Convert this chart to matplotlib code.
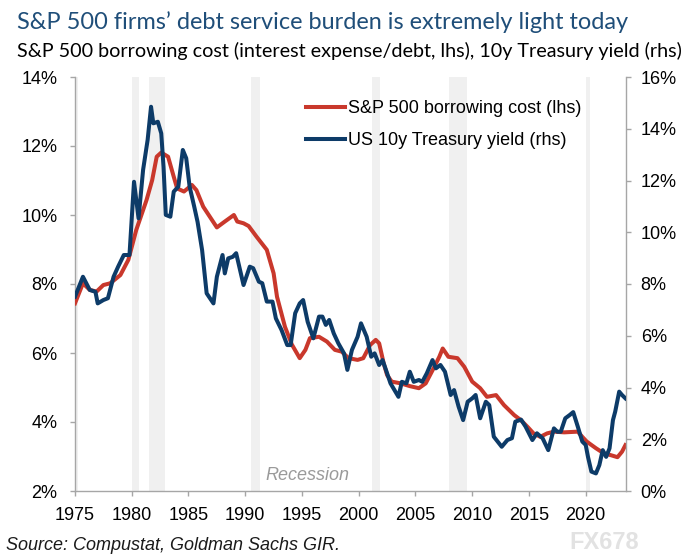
import matplotlib
matplotlib.use("Agg")
import matplotlib.pyplot as plt
from matplotlib.ticker import FuncFormatter

# ---------------- data ----------------
red_years = [1975.0, 1975.7, 1976.3, 1976.9, 1977.5, 1978.1, 1979.0, 1979.7, 1980.4, 1981.3,
             1981.8, 1982.2, 1982.6, 1983.2, 1983.7, 1984.0, 1984.6, 1985.3, 1985.7, 1986.3,
             1987.5, 1988.2, 1989.0, 1989.3, 1989.85, 1990.3, 1991.0, 1991.9, 1992.5, 1992.8,
             1993.5, 1994.1, 1994.8, 1995.3, 1995.7, 1996.5, 1997.2, 1997.9, 1998.5, 1999.1,
             1999.9, 2000.4, 2001.0, 2001.5, 2001.8, 2002.2, 2002.5, 2002.9, 2003.7, 2004.5,
             2005.3, 2005.9, 2006.6, 2007.1, 2007.4, 2007.9, 2008.7, 2009.3, 2010.0, 2010.7,
             2011.3, 2012.1, 2012.8, 2013.7, 2014.3, 2014.9, 2015.4, 2016.0, 2016.6, 2017.2,
             2018.1, 2019.3, 2019.7, 2020.1, 2020.9, 2021.6, 2022.2, 2022.8, 2023.2, 2023.5]
red_cost = [7.44, 8.02, 7.83, 7.78, 7.97, 8.02, 8.26, 8.70, 9.57, 10.43,
            11.01, 11.69, 11.81, 11.69, 11.11, 10.77, 10.68, 10.87, 10.72, 10.24,
            9.64, 9.81, 10.00, 9.81, 9.76, 9.68, 9.37, 8.99, 8.31, 7.63,
            6.76, 6.25, 5.85, 6.09, 6.43, 6.47, 6.33, 6.09, 6.04, 5.85,
            5.80, 5.85, 6.23, 6.38, 6.28, 5.70, 5.36, 5.17, 5.12, 5.04,
            4.98, 5.12, 5.56, 5.89, 6.13, 5.89, 5.85, 5.60, 5.17, 4.98,
            4.73, 4.78, 4.49, 4.20, 4.05, 3.85, 3.67, 3.57, 3.67, 3.72,
            3.70, 3.72, 3.57, 3.43, 3.24, 3.09, 3.04, 2.98, 3.14, 3.33]

blue_years = [1975.0, 1975.7, 1976.3, 1976.8, 1977.0, 1977.5, 1977.9, 1978.4, 1978.8, 1979.3,
              1979.8, 1980.2, 1980.6, 1981.0, 1981.4, 1981.7, 1981.9, 1982.3, 1982.6, 1982.8,
              1983.0, 1983.4, 1983.7, 1984.1, 1984.5, 1984.8, 1985.1, 1985.5, 1985.8, 1986.2,
              1986.6, 1987.2, 1987.5, 1988.0, 1988.2, 1988.5, 1988.9, 1989.2, 1989.85, 1990.4,
              1990.7, 1991.2, 1991.5, 1991.9, 1992.4, 1992.7, 1993.2, 1993.7, 1994.0, 1994.4,
              1994.8, 1995.1, 1995.5, 1996.0, 1996.5, 1996.8, 1997.1, 1997.4, 1997.8, 1998.2,
              1998.7, 1999.0, 1999.4, 1999.9, 2000.2, 2000.7, 2001.1, 2001.4, 2001.8, 2002.1,
              2002.4, 2002.8, 2003.5, 2003.8, 2004.2, 2004.5, 2004.85, 2005.3, 2005.6, 2006.0,
              2006.5, 2006.8, 2007.2, 2007.6, 2008.1, 2008.4, 2008.8, 2009.2, 2009.6, 2010.0,
              2010.3, 2010.7, 2011.2, 2011.5, 2011.9, 2012.6, 2013.1, 2013.5, 2013.8, 2014.3,
              2014.7, 2015.3, 2015.7, 2016.2, 2016.7, 2017.2, 2017.5, 2017.8, 2018.2, 2018.6,
              2018.9, 2019.3, 2019.7, 2020.0, 2020.2, 2020.5, 2020.9, 2021.2, 2021.5, 2021.8,
              2022.1, 2022.4, 2022.6, 2022.95, 2023.2, 2023.5]
blue_yield = [7.51, 8.28, 7.77, 7.70, 7.25, 7.38, 7.45, 8.28, 8.67, 9.12,
              9.12, 11.95, 10.54, 12.41, 13.57, 14.85, 14.21, 14.27, 13.82, 12.53,
              10.67, 10.60, 11.57, 11.76, 13.18, 12.86, 11.76, 11.00, 10.40, 9.31,
              7.64, 7.25, 8.28, 9.12, 8.41, 8.99, 9.05, 9.19, 7.96, 8.67,
              8.61, 8.09, 8.03, 7.32, 7.32, 6.67, 6.22, 5.64, 5.64, 6.87,
              7.25, 7.38, 6.54, 5.90, 6.74, 6.74, 6.42, 6.61, 6.09, 5.71,
              5.32, 4.68, 5.45, 5.96, 6.48, 5.96, 5.19, 5.32, 4.87, 5.06,
              4.68, 4.16, 3.64, 4.22, 4.16, 4.61, 4.22, 4.29, 4.22, 4.55,
              5.06, 4.74, 4.87, 4.61, 3.71, 3.90, 3.26, 2.74, 3.45, 3.58,
              3.71, 2.81, 3.45, 3.32, 2.10, 1.71, 1.97, 2.04, 2.68, 2.76,
              2.49, 1.97, 2.23, 2.04, 1.58, 2.42, 2.29, 2.29, 2.81, 2.94,
              3.05, 2.49, 1.91, 1.78, 1.32, 0.75, 0.68, 1.00, 1.58, 1.32,
              1.65, 2.74, 3.07, 3.84, 3.71, 3.58]

recession_start = [1973.9, 1980.05, 1981.55, 1990.55, 2001.2, 2007.95, 2020.05]
recession_end = [1975.25, 1980.6, 1982.9, 1991.3, 2001.9, 2009.5, 2020.4]

x_ticks = [1975, 1980, 1985, 1990, 1995, 2000, 2005, 2010, 2015, 2020]
left_ticks = [2, 4, 6, 8, 10, 12, 14]
right_ticks = [0, 2, 4, 6, 8, 10, 12, 14, 16]

title = "S&P 500 firms\u2019 debt service burden is extremely light today"
subtitle = "S&P 500 borrowing cost (interest expense/debt, lhs), 10y Treasury yield (rhs)"
label_red = "S&P 500 borrowing cost (lhs)"
label_blue = "US 10y Treasury yield (rhs)"
source = "Source: Compustat, Goldman Sachs GIR."

# ---------------- styling ----------------
RED = "#c9382c"
BLUE = "#0d3b68"
GRID = "#a6a6a6"
W, H = 683, 560
plt.rcParams["font.family"] = ["Liberation Sans", "DejaVu Sans"]

fig = plt.figure(figsize=(W / 100, H / 100), dpi=100)
L, R, T, B = 75, 626, 77, 491
ax = fig.add_axes([L / W, 1 - B / H, (R - L) / W, (B - T) / H])
ax2 = ax.twinx()

for s, e in zip(recession_start, recession_end):
    ax.axvspan(s, e, color="#f0f0f0", lw=0, zorder=0)

ax.plot(red_years, red_cost, color=RED, lw=2.9, solid_joinstyle="round", zorder=3, label=label_red)
ax2.plot(blue_years, blue_yield, color=BLUE, lw=2.9, solid_joinstyle="round", zorder=3, label=label_blue)

ax.set_xlim(1975, 2023.55)
ax.set_ylim(2, 14)
ax2.set_ylim(0, 16)
ax.set_xticks(x_ticks)
ax.set_yticks(left_ticks)
ax2.set_yticks(right_ticks)
pct = FuncFormatter(lambda v, p: f"{v:.0f}%")
ax.yaxis.set_major_formatter(pct)
ax2.yaxis.set_major_formatter(pct)

for a in (ax, ax2):
    for sp in a.spines.values():
        sp.set_color(GRID)
        sp.set_linewidth(1.0)
    a.spines["top"].set_visible(False)
ax.spines["right"].set_visible(False)
ax2.spines["left"].set_visible(False)
ax2.spines["bottom"].set_visible(False)

ax.tick_params(axis="x", direction="out", length=3.6, width=1, color=GRID, labelsize=13, pad=8)
ax.tick_params(axis="y", direction="out", length=3.6, width=1, color=GRID, labelsize=13, pad=9)
ax2.tick_params(axis="y", direction="out", length=3.6, width=1, color=GRID, labelsize=13, pad=7)

ax.text(1999.2, 2.45, "Recession", color="#9a9a9a", fontsize=13, style="italic",
        ha="right", va="center")

h1, l1 = ax.get_legend_handles_labels()
h2, l2 = ax2.get_legend_handles_labels()
leg = ax2.legend(h1 + h2, l1 + l2, loc="upper left", bbox_to_anchor=(306 / W, 1 - 100 / H),
                 bbox_transform=fig.transFigure, frameon=False, fontsize=13,
                 handlelength=2.15, handletextpad=0.2, labelspacing=0.85,
                 borderpad=0, borderaxespad=0)

t1 = fig.text(17 / W, 1 - 29 / H, title, family=["Lato", "DejaVu Sans"], color="#1f4e79",
              fontsize=17, ha="left", va="baseline")
t2 = fig.text(17 / W, 1 - 57 / H, subtitle, family=["Lato", "DejaVu Sans"], color="black",
              fontsize=13, ha="left", va="baseline")
fig.text(6 / W, 1 - 550 / H, source, fontsize=13, style="italic", color="#1a1a1a",
         ha="left", va="baseline")
fig.text(604 / W, 1 - 549 / H, "FX678", fontsize=17, color="#e2e2e2", ha="center",
         va="baseline", weight="bold")

# fit title widths to the reference
fig.canvas.draw()
rend = fig.canvas.get_renderer()
for t, target in ((t1, 611), (t2, 663)):
    w = t.get_window_extent(rend).width
    t.set_fontsize(t.get_fontsize() * target / w)

fig.savefig("out.png", dpi=100)
